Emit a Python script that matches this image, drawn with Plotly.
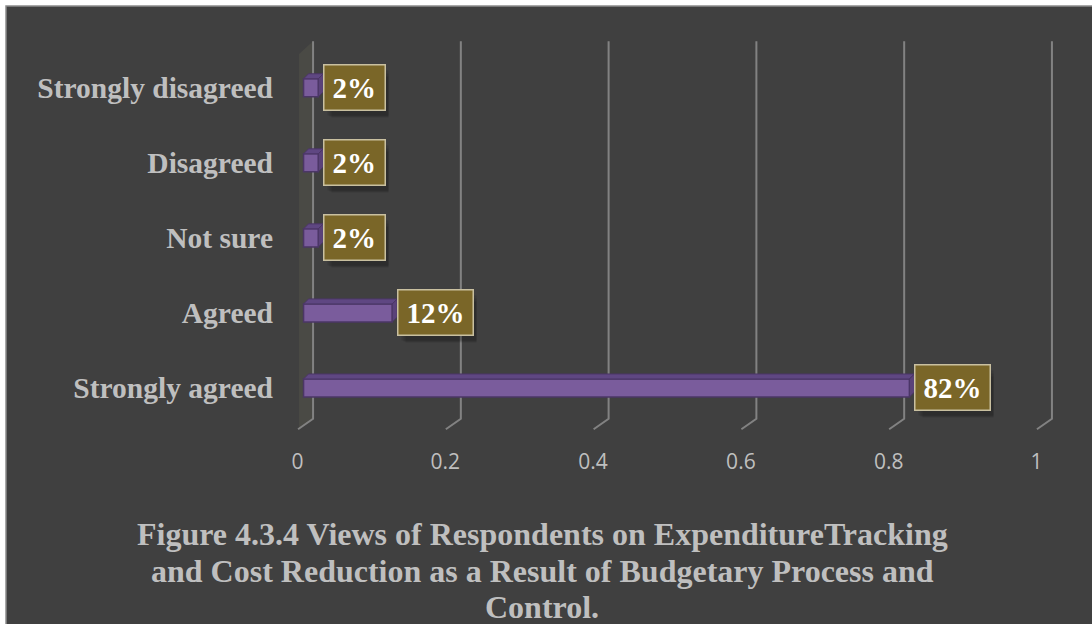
import plotly.graph_objects as go

# Survey responses (bottom to top as drawn)
categories = ["Strongly agreed", "Agreed", "Not sure", "Disagreed", "Strongly disagreed"]
shares = [0.82, 0.12, 0.02, 0.02, 0.02]
x_ticks = [0, 0.2, 0.4, 0.6, 0.8, 1]
x_tick_labels = ["0", "0.2", "0.4", "0.6", "0.8", "1"]
title_lines = [
    "Figure 4.3.4 Views of Respondents on ExpenditureTracking",
    "and Cost Reduction as a Result of Budgetary Process and",
    "Control.",
]

W, H = 1092, 624
ML, MR, MT, MB = 274, 20, 39, 191
XR = [-0.04, 1.04]
YR = [-0.6, 4.65]
PW, PH = W - ML - MR, H - MT - MB
px_x = PW / (XR[1] - XR[0])   # pixels per x unit
px_y = PH / (YR[1] - YR[0])   # pixels per y unit

BG = "#404040"
TXT = "#bfbfbf"
GRID = "#828282"
SERIF = "Liberation Serif, Times New Roman, serif"

# 3-D perspective offsets (pixels converted to data units)
back_dx = 9.5 / px_x
front_dx = -5.5 / px_x
depth_dx = 5 / px_x
depth_dy = 5 / px_y
bar_w = 0.24
y_pos = list(range(len(categories)))
floor_y, back_y, top_y = -0.55, -0.41, 4.62


def path(points, close=False):
    s = "M " + " L ".join(f"{x},{y}" for x, y in points)
    return s + (" Z" if close else "")


def px_to_paper_x(px):
    return (px - ML) / PW


def px_to_paper_y(py):
    return (H - MB - py) / PH


shapes = [dict(
    type="rect", xref="paper", yref="paper", layer="below",
    x0=px_to_paper_x(6), x1=px_to_paper_x(W + 10),
    y0=px_to_paper_y(H + 10), y1=px_to_paper_y(6),
    fillcolor=BG, line=dict(color="#8c8c8c", width=1.5))]

# side wall
wall_x0 = -4.5 / px_x
shapes.append(dict(
    type="path", xref="x", yref="y", layer="below",
    path=path([(wall_x0, floor_y), (back_dx, back_y), (back_dx, top_y),
               (wall_x0, 4.45)], close=True),
    fillcolor="#4a4a45", line=dict(width=0)))

# perspective gridlines: back wall + floor edge
for t in x_ticks:
    shapes.append(dict(
        type="path", xref="x", yref="y", layer="below",
        path=path([(t + front_dx, floor_y), (t + back_dx, back_y),
                   (t + back_dx, top_y)]),
        line=dict(color=GRID, width=2)))

fig = go.Figure()

# front faces of the bars
fig.add_trace(go.Bar(
    x=shares, y=y_pos, orientation="h", width=bar_w,
    marker=dict(color="#7a5c9c", line=dict(color="#4b3666", width=1.5)),
    hoverinfo="skip", showlegend=False))

# top and side faces
for v, y in zip(shares, y_pos):
    top = y + bar_w / 2
    bot = y - bar_w / 2
    fig.add_trace(go.Scatter(
        x=[0, v, v + depth_dx, depth_dx, 0],
        y=[top, top, top + depth_dy, top + depth_dy, top],
        fill="toself", fillcolor="#5f4782", mode="lines",
        line=dict(color="#4b3666", width=1), hoverinfo="skip", showlegend=False))
    fig.add_trace(go.Scatter(
        x=[v, v + depth_dx, v + depth_dx, v, v],
        y=[bot, bot + depth_dy, top + depth_dy, top, bot],
        fill="toself", fillcolor="#5a4279", mode="lines",
        line=dict(color="#4b3666", width=1), hoverinfo="skip", showlegend=False))

# value labels with a soft shadow
annotations = []
for v, y in zip(shares, y_pos):
    label = f"{round(v * 100)}%"
    box_w = 29 * (0.5 * (len(label) - 1) + 1.0) + 12
    for k in range(3):
        annotations.append(dict(
            x=v, y=y, xref="x", yref="y", xanchor="left", yanchor="middle",
            xshift=5 + 4 + 2 * k, yshift=-5 - 2 * k, text=" ", showarrow=False,
            width=box_w - 2 * k, height=40 - 2 * k, bgcolor="rgba(0,0,0,0.10)",
            borderpad=2, font=dict(size=29)))
    annotations.append(dict(
        x=v, y=y, xref="x", yref="y", xanchor="left", yanchor="middle",
        xshift=5, text=label, showarrow=False,
        width=box_w, height=40, bgcolor="#7a6628",
        bordercolor="#c9c0a0", borderwidth=1.5, borderpad=2,
        font=dict(family=SERIF, size=29, color="white", weight="bold")))

# caption lines
for line, py in zip(title_lines, [534, 571, 607]):
    annotations.append(dict(
        x=px_to_paper_x(542), y=px_to_paper_y(py), xref="paper", yref="paper",
        xanchor="center", yanchor="middle", text=line, showarrow=False,
        font=dict(family=SERIF, size=32, color=TXT, weight="bold")))

fig.update_layout(
    width=W, height=H,
    margin=dict(l=ML, r=MR, t=MT, b=MB, pad=0),
    paper_bgcolor="white", plot_bgcolor="rgba(0,0,0,0)",
    showlegend=False,
    annotations=annotations,
    shapes=shapes,
    xaxis=dict(
        range=XR, showgrid=False, zeroline=False, showline=False,
        tickvals=x_ticks, ticktext=x_tick_labels, ticks="",
        ticklabelshift=-6, ticklabelstandoff=14,
        tickfont=dict(family="Open Sans", size=21, color=TXT)),
    yaxis=dict(
        range=YR, showgrid=False, zeroline=False, showline=False,
        tickvals=y_pos, ticktext=categories, ticks="",
        tickfont=dict(family=SERIF, size=29.5, color=TXT, weight="bold")),
)

fig.write_html("out.html")
